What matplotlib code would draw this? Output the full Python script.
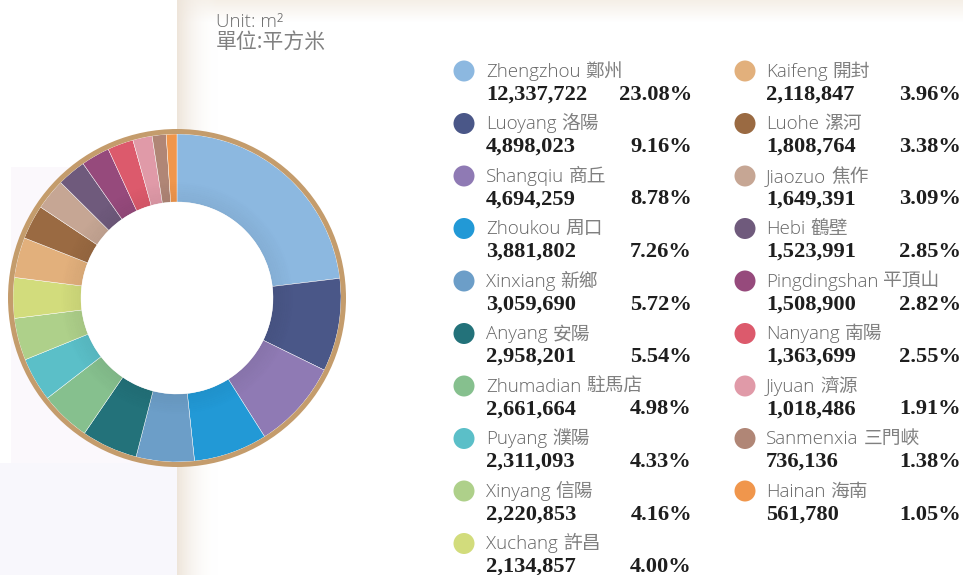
import numpy as np
import matplotlib
matplotlib.use("Agg")
import matplotlib.pyplot as plt
from matplotlib.patches import Circle, Wedge, Rectangle
from matplotlib.colors import to_rgba

# ---------------- data ----------------
names_en = ["Zhengzhou", "Luoyang", "Shangqiu", "Zhoukou", "Xinxiang", "Anyang",
            "Zhumadian", "Puyang", "Xinyang", "Xuchang", "Kaifeng", "Luohe",
            "Jiaozuo", "Hebi", "Pingdingshan", "Nanyang", "Jiyuan", "Sanmenxia", "Hainan"]
names_zh = ["鄭州", "洛陽", "商丘", "周口", "新鄉", "安陽", "駐馬店", "濮陽", "信陽", "許昌",
            "開封", "漯河", "焦作", "鶴壁", "平頂山", "南陽", "濟源", "三門峽", "海南"]
values = [12337722, 4898023, 4694259, 3881802, 3059690, 2958201, 2661664, 2311093,
          2220853, 2134857, 2118847, 1808764, 1649391, 1523991, 1508900, 1363699,
          1018486, 736136, 561780]
percents = ["23.08%", "9.16%", "8.78%", "7.26%", "5.72%", "5.54%", "4.98%", "4.33%",
            "4.16%", "4.00%", "3.96%", "3.38%", "3.09%", "2.85%", "2.82%", "2.55%",
            "1.91%", "1.38%", "1.05%"]
colors = ["#8cb8e0", "#4a5788", "#8f7ab4", "#2299d6", "#6c9ec8", "#23727a",
          "#86c08e", "#5bbfc8", "#aed08a", "#d2dc7c", "#e2b07c", "#9a6a42",
          "#c6a694", "#6f5a7c", "#964a7c", "#dc5a6c", "#e09aa8", "#b08676", "#f0964c"]
unit_en = "Unit: m²"
unit_zh = "單位:平方米"

W, H = 963, 575
fig = plt.figure(figsize=(W / 100, H / 100), dpi=100)
ax = fig.add_axes([0, 0, 1, 1])
ax.set_xlim(0, W)
ax.set_ylim(0, H)

def Y(y):  # pixel-from-top to data
    return H - y

LATIN = ["Open Sans", "DejaVu Sans"]
CJK = ["Noto Sans CJK TC", "DejaVu Sans"]
SERIF = ["Liberation Serif", "DejaVu Serif"]

# ---------------- background ----------------
def grad(x0, x1, y0, y1, c0, c1, horizontal=True, n=256):
    a = np.array(to_rgba(c0)); b = np.array(to_rgba(c1))
    t = np.linspace(0, 1, n)[:, None]
    arr = a * (1 - t) + b * t
    img = arr[None, :, :] if horizontal else arr[:, None, :]
    ax.imshow(img, extent=(x0, x1, Y(y1), Y(y0)), aspect="auto", zorder=0,
              interpolation="bilinear", origin="upper")

ax.add_patch(Rectangle((11, Y(463)), 177 - 11, 463 - 167, color="#fbf8fc", zorder=0, lw=0))
ax.add_patch(Rectangle((0, 0), 177, H - 463, color="#f8f7fc", zorder=0, lw=0))
grad(177, 963, 0, 22, "#f5efe7", "#ffffff", horizontal=False)
grad(177, 218, 0, 575, "#eee5da", (1, 1, 1, 0), horizontal=True)

# ---------------- donut ----------------
cx, cy = 177, Y(298)
r_out, r_in = 164, 96
ax.pie(values, colors=colors, radius=r_out, center=(cx, cy), startangle=90,
       counterclock=False, wedgeprops=dict(width=r_out - r_in, edgecolor="white",
                                           linewidth=0.3))
ax.set_xlim(0, W)
ax.set_ylim(0, H)
# inner shadow
for i in range(10):
    ax.add_patch(Wedge((cx, cy), r_in + 2 * (i + 1), 0, 360, width=2,
                       facecolor="black", alpha=0.05 * (1 - i / 10), lw=0, zorder=3))
ax.add_patch(Circle((cx, cy), r_in, facecolor="white", lw=0, zorder=4))
ax.add_patch(Circle((cx, cy), 166.5, facecolor="none", edgecolor="#c49c6c",
                    lw=3.6, zorder=5))

renderer = fig.canvas.get_renderer()

# ---------------- unit text ----------------
ax.text(216, Y(27), unit_en, fontsize=13.5, color="#6e6e6e", family=LATIN,
        fontweight="light", ha="left", va="baseline")
ax.text(216, Y(48), unit_zh, fontsize=15, color="#808080", family=CJK,
        fontweight="normal", ha="left", va="baseline")

# ---------------- legend ----------------
cols = [(464, 486, 692), (745, 766, 961)]
for i in range(len(values)):
    c = 0 if i < 10 else 1
    row = i if i < 10 else i - 10
    xc, xt, xr = cols[c]
    yc = 71 + 52.5 * row
    ax.add_patch(Circle((xc, Y(yc)), 10.5, facecolor=colors[i], lw=0, zorder=5))
    t1 = ax.text(xt, Y(yc + 5.8), names_en[i], fontsize=13.5,
                 color="#666666", family=LATIN, fontweight="light",
                 ha="left", va="baseline")
    x_end = t1.get_window_extent(renderer).x1
    ax.text(x_end + 5, Y(yc + 5.8), names_zh[i], fontsize=13.5,
            color="#808080", family=CJK, fontweight="normal",
            ha="left", va="baseline")
    ax.text(xt, Y(yc + 28.5), f"{values[i]:,}", fontsize=16.2, fontweight="bold",
            color="#1e1e1e", family=SERIF, ha="left", va="baseline")
    ax.text(xr, Y(yc + 28.5), percents[i], fontsize=16.2, fontweight="bold",
            color="#1e1e1e", family=SERIF, ha="right", va="baseline")

ax.set_aspect("auto")
ax.axis("off")
fig.savefig("out.png", dpi=100)
